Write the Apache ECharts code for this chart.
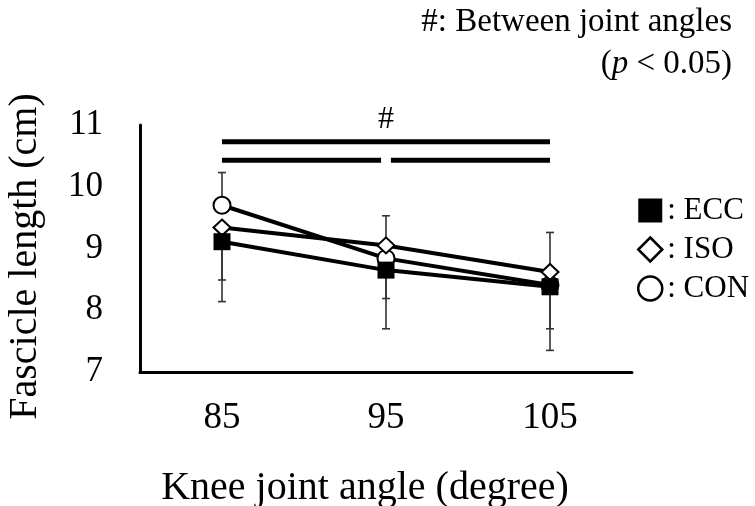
<!DOCTYPE html>
<html>
<head>
<meta charset="utf-8">
<script src="https://cdn.jsdelivr.net/npm/echarts@6/dist/echarts.min.js"></script>
<style>html,body{margin:0;padding:0;background:#fff;}#c{width:755px;height:506px;}</style>
</head>
<body>
<div id="c"></div>
<script>
// ---- data ----
const angles = [85, 95, 105];
const conMean = [9.70, 8.84, 8.41];
const isoMean = [9.34, 9.05, 8.62];
const eccMean = [9.11, 8.65, 8.38];
const conSD = [0.53, 0.69, 0.85];   // shown upward
const isoSD = [0.85, 0.86, 0.92];   // shown downward
const eccSD = [0.97, 0.95, 1.03];   // shown downward
const yTicks = [7, 8, 9, 10, 11];
const xTicks = [85, 95, 105];
// significance bars: [x start, x end, y level]
const sigBars = [[85, 105, 10.73], [85, 94.7, 10.43], [95.3, 105, 10.43]];
const sigMark = [[95, 11.08, '#']];

const FONT = '"Liberation Serif", "Times New Roman", serif';

function pts(mean) { return angles.map((a, i) => [a, mean[i]]); }
const errData = [];
angles.forEach((a, i) => {
  errData.push([a, conMean[i], conMean[i] + conSD[i]]);
  errData.push([a, isoMean[i], isoMean[i] - isoSD[i]]);
  errData.push([a, eccMean[i], eccMean[i] - eccSD[i]]);
});

const chart = echarts.init(document.getElementById('c'), null, {renderer: 'canvas'});
const lineStyle = {color: '#000', width: 4};
chart.setOption({
  animation: false,
  backgroundColor: '#fff',
  grid: {left: 140, right: 123, top: 125, bottom: 134, containLabel: false, outerBoundsMode: 'none'},
  xAxis: {
    type: 'value', min: 80, max: 110, interval: 5,
    axisLine: {show: true, lineStyle: {color: '#000', width: 3}},
    axisTick: {show: false}, splitLine: {show: false},
    axisLabel: {
      fontFamily: FONT, fontSize: 37, color: '#000', margin: 28,
      formatter: v => xTicks.indexOf(v) >= 0 ? String(v) : ''
    },
    name: 'Knee joint angle (degree)', nameLocation: 'middle', nameGap: 96,
    nameTextStyle: {fontFamily: FONT, fontSize: 40, color: '#000', padding: [0, 42, 0, 0]}
  },
  yAxis: {
    type: 'value', min: 7, max: 11, interval: 1,
    axisLine: {show: true, lineStyle: {color: '#000', width: 3}},
    axisTick: {show: false}, splitLine: {show: false},
    axisLabel: {
      fontFamily: FONT, fontSize: 35, color: '#000', margin: 37,
      formatter: v => yTicks.indexOf(v) >= 0 ? String(v) : ''
    },
    name: 'Fascicle length (cm)', nameLocation: 'middle', nameGap: 95,
    nameTextStyle: {fontFamily: FONT, fontSize: 40, color: '#000', padding: [0, 16, 0, 0]}
  },
  legend: {
    orient: 'vertical', left: 632, top: 186, itemGap: 0,
    itemWidth: 24, itemHeight: 24,
    formatter: ': {name}',
    textStyle: {fontFamily: FONT, fontSize: 31, color: '#000', lineHeight: 39},
    data: [
      {name: 'ECC', icon: 'rect', itemStyle: {color: '#000', borderWidth: 0}},
      {name: 'ISO', icon: 'diamond', itemStyle: {color: '#fff', borderColor: '#000', borderWidth: 2.5}},
      {name: 'CON', icon: 'circle', itemStyle: {color: '#fff', borderColor: '#000', borderWidth: 2.5}}
    ]
  },
  graphic: [
    {
      type: 'text', x: 732, y: 22,
      style: {text: '#: Between joint angles', fontFamily: FONT, fontSize: 33, fill: '#000',
        align: 'right', verticalAlign: 'middle'}
    },
    {
      type: 'text', x: 732, y: 64,
      style: {text: '({i|p} < 0.05)', fontFamily: FONT, fontSize: 33, fill: '#000',
        align: 'right', verticalAlign: 'middle',
        rich: {i: {fontStyle: 'italic', fontFamily: FONT, fontSize: 33}}}
    }
  ],
  series: [
    {
      type: 'custom', name: 'err', z: 1, silent: true,
      renderItem: function (params, api) {
        const p0 = api.coord([api.value(0), api.value(1)]);
        const p1 = api.coord([api.value(0), api.value(2)]);
        const st = {stroke: '#333', lineWidth: 1.6};
        return {type: 'group', children: [
          {type: 'line', shape: {x1: p0[0], y1: p0[1], x2: p1[0], y2: p1[1]}, style: st},
          {type: 'line', shape: {x1: p1[0] - 4, y1: p1[1], x2: p1[0] + 4, y2: p1[1]}, style: st}
        ]};
      },
      data: errData
    },
    {
      type: 'custom', name: 'sig', z: 1, silent: true,
      renderItem: function (params, api) {
        const a = api.coord([api.value(0), api.value(2)]);
        const b = api.coord([api.value(1), api.value(2)]);
        return {type: 'line', shape: {x1: a[0], y1: a[1], x2: b[0], y2: b[1]},
          style: {stroke: '#000', lineWidth: 5}};
      },
      data: sigBars
    },
    {
      type: 'custom', name: 'sigmark', z: 1, silent: true, clip: false,
      renderItem: function (params, api) {
        const p = api.coord([api.value(0), api.value(1)]);
        return {type: 'text', x: p[0], y: p[1],
          style: {text: sigMark[params.dataIndex][2], fontFamily: FONT, fontSize: 32, fill: '#000',
            align: 'center', verticalAlign: 'middle'}};
      },
      data: sigMark.map(d => [d[0], d[1]])
    },
    {
      type: 'line', name: 'CON', z: 3, data: pts(conMean),
      symbol: 'circle', symbolSize: 17,
      lineStyle: lineStyle,
      itemStyle: {color: '#fff', borderColor: '#000', borderWidth: 2}
    },
    {
      type: 'line', name: 'ISO', z: 4, data: pts(isoMean),
      symbol: 'diamond', symbolSize: [17, 16],
      lineStyle: lineStyle,
      itemStyle: {color: '#fff', borderColor: '#000', borderWidth: 2}
    },
    {
      type: 'line', name: 'ECC', z: 5, data: pts(eccMean),
      symbol: 'rect', symbolSize: 17,
      lineStyle: lineStyle,
      itemStyle: {color: '#000', borderColor: '#000', borderWidth: 0}
    }
  ]
});
</script>
</body>
</html>
